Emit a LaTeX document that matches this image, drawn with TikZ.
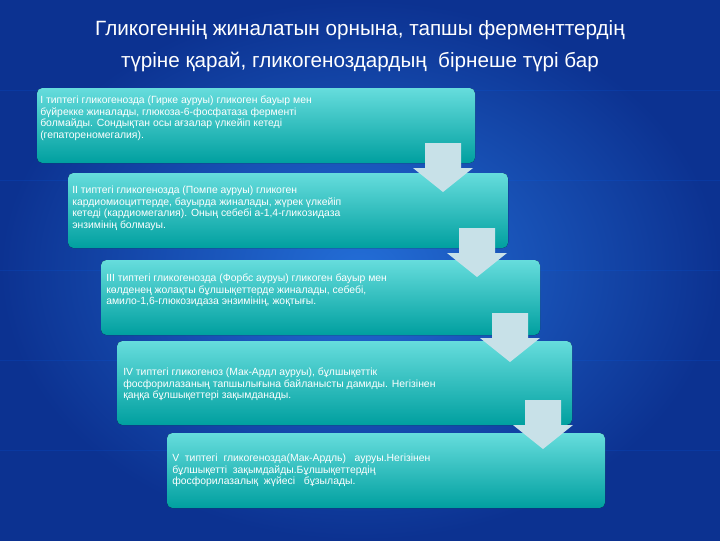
\documentclass[tikz,border=0pt]{standalone}
\usepackage{fontspec}
\setmainfont{Liberation Sans}
\begin{document}
\begin{tikzpicture}[x=0.75pt,y=-0.75pt,
  gbox/.style={rounded corners=4pt,top color=cyan!55!teal!60!white,bottom color=teal!75!cyan,draw=none},
  gtext/.style={anchor=north west,align=left,text=white,font=\fontsize{7.8}{8.6}\selectfont,inner sep=0pt},
  garrow/.style={fill={rgb,255:red,200;green,225;blue,232},draw=none}]
\useasboundingbox (0,0) rectangle (720,540);
\fill[inner color={rgb,255:red,35;green,110;blue,215},outer color={rgb,255:red,12;green,50;blue,145}] (0,0) rectangle (720,540);
\foreach \y in {90,180,270,360,450} \draw[blue!60!cyan,opacity=0.15] (0,\y) -- (720,\y);
\node[text=white,font=\fontsize{15.5}{24}\selectfont,align=center] (title) at (360,46)
 {Гликогеннің жиналатын орнына, тапшы ферменттердің\\түріне қарай, гликогеноздардың \ бірнеше түрі бар};
% boxes
\fill[gbox] (37,88) rectangle (475,163);
\fill[gbox] (68,173) rectangle (508,248);
\fill[gbox] (101,260) rectangle (540,335);
\fill[gbox] (117,341) rectangle (572,425);
\fill[gbox] (167,433) rectangle (605,508);
% arrows
\foreach \x/\y in {443/143,477/228,510/313,543/400}
  \fill[garrow] (\x-18,\y) -- (\x+18,\y) -- (\x+18,\y+25) -- (\x+30,\y+25) -- (\x,\y+49) -- (\x-30,\y+25) -- (\x-18,\y+25) -- cycle;
\node[gtext] (t1) at (40,96) {I типтегі гликогенозда (Гирке ауруы) гликоген бауыр мен\\бүйрекке жиналады, глюкоза-6-фосфатаза ферменті\\болмайды. Сондықтан осы ағзалар үлкейіп кетеді\\(гепатореномегалия).};
\node[gtext] (t2) at (72,186) {II типтегі гликогенозда (Помпе ауруы) гликоген\\кардиомиоциттерде, бауырда жиналады, жүрек үлкейіп\\кетеді (кардиомегалия). Оның себебі а-1,4-гликозидаза\\энзимінің болмауы.};
\node[gtext] (t3) at (106,274) {III типтегі гликогенозда (Форбс ауруы) гликоген бауыр мен\\көлденең жолақты бұлшықеттерде жиналады, себебі,\\амило-1,6-глюкозидаза энзимінің, жоқтығы.};
\node[gtext] (t4) at (123,368) {IV типтегі гликогеноз (Мак-Ардл ауруы), бұлшықеттік\\фосфорилазаның тапшылығына байланысты дамиды. Негізінен\\қаңқа бұлшықеттері зақымданады.};
\node[gtext] (t5) at (172,454) {V \ типтегі \ гликогенозда(Мак-Ардль) \ \ ауруы.Негізінен\\бұлшықетті \ зақымдайды.Бұлшықеттердің\\фосфорилазалық \ жүйесі \ \ бұзылады.};
\end{tikzpicture}
\end{document}
